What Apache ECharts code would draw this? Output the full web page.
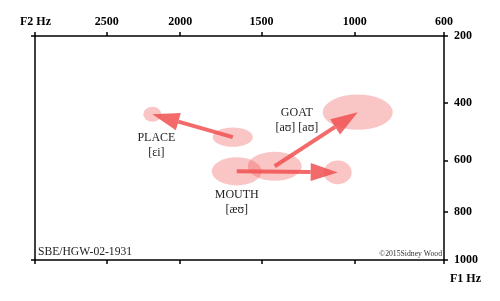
<!DOCTYPE html>
<html>
<head>
<meta charset="utf-8">
<script src="https://cdn.jsdelivr.net/npm/echarts@6/dist/echarts.min.js"></script>
<style>
  html, body { margin: 0; padding: 0; background: #fff; }
  #chart { width: 500px; height: 301px; }
</style>
</head>
<body>
<div id="chart"></div>
<script>
// vowel onsets / offsets (Hz)
const vowels = ['PLACE', 'GOAT', 'MOUTH'];
const startF2 = [1670, 1424, 1646];
const startF1 = [516, 622, 641];
const startSdF2 = [121, 153, 150];
const startSdF1 = [34, 54, 53];
const endF2 = [2184, 985, 1085];
const endF1 = [437, 430, 645];
const endSdF2 = [61, 171, 71];
const endSdF1 = [25, 59, 45];

// label anchors (Hz) and texts
const labelTexts = ['PLACE\n[ɛi]', 'GOAT\n[aʊ] [aʊ]', 'MOUTH\n[æʊ]'];
const labelF2 = [2157, 1301, 1646];
const labelF1 = [546, 456, 761];

// axis ticks
const f2Ticks = [2500, 2000, 1500, 1000, 600];
const f1Ticks = [200, 400, 600, 800, 1000];
const f2Min = 600, f2Max = 3030;
const f1Min = 200, f1Max = 1000;

// the plot uses compressed frequency scales
const PX = 0.6, PY = 0.7;
const tx = f => Math.pow(f, PX);
const ty = f => Math.pow(f, PY);
const backX = v => Math.pow(v, 1 / PX);
const backY = v => Math.pow(v, 1 / PY);

const serif = '"Liberation Serif", "DejaVu Serif", serif';
const pink = 'rgba(240, 90, 90, 0.35)';
const arrowColor = 'rgba(240, 80, 80, 0.85)';

const ellipseData = [];
vowels.forEach((v, i) => {
  ellipseData.push([tx(startF2[i]), ty(startF1[i]), startF2[i], startF1[i], startSdF2[i], startSdF1[i]]);
  ellipseData.push([tx(endF2[i]), ty(endF1[i]), endF2[i], endF1[i], endSdF2[i], endSdF1[i]]);
});
const arrowData = vowels.map((v, i) => [tx(startF2[i]), ty(startF1[i]), tx(endF2[i]), ty(endF1[i])]);
const labelData = vowels.map((v, i) => [tx(labelF2[i]), ty(labelF1[i]), i]);

const axisLine = { show: true, onZero: false, lineStyle: { color: '#000', width: 1.5 } };
const tickStyle = { color: '#000', width: 1.5 };
const labelStyle = { color: '#000', fontFamily: serif, fontWeight: 'bold', fontSize: 12 };

const chart = echarts.init(document.getElementById('chart'), null, { renderer: 'canvas' });

const option = {
  animation: false,
  backgroundColor: '#fff',
  grid: { left: 35, right: 56, top: 36, bottom: 41 },
  xAxis: [
    {
      type: 'value', position: 'top', inverse: true,
      min: tx(f2Min), max: tx(f2Max),
      axisLine,
      axisTick: { show: true, length: 4, customValues: f2Ticks.map(tx).concat([tx(f2Max)]), lineStyle: tickStyle },
      axisLabel: Object.assign({ show: true, margin: 8, customValues: f2Ticks.map(tx),
        formatter: v => String(Math.round(backX(v))) }, labelStyle),
      splitLine: { show: false }
    },
    {
      type: 'value', position: 'bottom', inverse: true,
      min: tx(f2Min), max: tx(f2Max),
      axisLine,
      axisTick: { show: true, length: 4, customValues: f2Ticks.map(tx).concat([tx(f2Max)]), lineStyle: tickStyle },
      axisLabel: { show: false },
      splitLine: { show: false }
    }
  ],
  yAxis: [
    {
      type: 'value', position: 'right', inverse: true,
      min: ty(f1Min), max: ty(f1Max),
      axisLine,
      axisTick: { show: true, length: 4, customValues: f1Ticks.map(ty), lineStyle: tickStyle },
      axisLabel: Object.assign({ show: true, margin: 10, customValues: f1Ticks.map(ty),
        formatter: v => String(Math.round(backY(v))) }, labelStyle),
      splitLine: { show: false }
    },
    {
      type: 'value', position: 'left', inverse: true,
      min: ty(f1Min), max: ty(f1Max),
      axisLine,
      axisTick: { show: true, length: 4, customValues: [ty(f1Min), ty(f1Max)], lineStyle: tickStyle },
      axisLabel: { show: false },
      splitLine: { show: false }
    }
  ],
  graphic: [
    { type: 'text', left: 20, top: 16, style: { text: 'F2 Hz', font: 'bold 12px ' + serif, fill: '#000' } },
    { type: 'text', left: 450, top: 273, style: { text: 'F1 Hz', font: 'bold 12px ' + serif, fill: '#000' } },
    { type: 'text', left: 38, top: 246, style: { text: 'SBE/HGW-02-1931', font: '11.6px ' + serif, fill: '#222' } },
    { type: 'text', right: 58, top: 250, style: { text: '©2015Sidney Wood', font: '7.7px ' + serif, fill: '#333' } }
  ],
  series: [
    {
      type: 'custom', name: 'spread', coordinateSystem: 'cartesian2d',
      data: ellipseData,
      renderItem: (params, api) => {
        const f2 = api.value(2), f1 = api.value(3), sd2 = api.value(4), sd1 = api.value(5);
        const c = api.coord([tx(f2), ty(f1)]);
        const a = api.coord([tx(f2 - sd2), ty(f1 - sd1)]);
        const b = api.coord([tx(f2 + sd2), ty(f1 + sd1)]);
        const rx = Math.abs(a[0] - b[0]) / 2;
        const ry = Math.abs(a[1] - b[1]) / 2;
        return {
          type: 'circle',
          x: c[0], y: c[1], scaleX: rx / ry, scaleY: 1,
          shape: { cx: 0, cy: 0, r: ry },
          style: { fill: pink }
        };
      }
    },
    {
      type: 'custom', name: 'glide', coordinateSystem: 'cartesian2d',
      data: arrowData,
      renderItem: (params, api) => {
        const p0 = api.coord([api.value(0), api.value(1)]);
        const p1 = api.coord([api.value(2), api.value(3)]);
        const dx = p1[0] - p0[0], dy = p1[1] - p0[1];
        const len = Math.sqrt(dx * dx + dy * dy);
        const ux = dx / len, uy = dy / len;
        const headLen = 27, headHalf = 9;
        const bx = p1[0] - ux * headLen, by = p1[1] - uy * headLen;
        return {
          type: 'group',
          children: [
            { type: 'line', shape: { x1: p0[0], y1: p0[1], x2: bx, y2: by },
              style: { stroke: arrowColor, lineWidth: 4 } },
            { type: 'polygon',
              shape: { points: [[p1[0], p1[1]], [bx - uy * headHalf, by + ux * headHalf], [bx + uy * headHalf, by - ux * headHalf]] },
              style: { fill: arrowColor } }
          ]
        };
      }
    },
    {
      type: 'custom', name: 'labels', coordinateSystem: 'cartesian2d',
      data: labelData,
      renderItem: (params, api) => {
        const p = api.coord([api.value(0), api.value(1)]);
        return {
          type: 'text', x: p[0], y: p[1],
          style: { text: labelTexts[api.value(2)], font: '12px ' + serif, fill: '#222',
            align: 'center', verticalAlign: 'middle', lineHeight: 15 }
        };
      }
    }
  ]
};

chart.setOption(option);
</script>
</body>
</html>
